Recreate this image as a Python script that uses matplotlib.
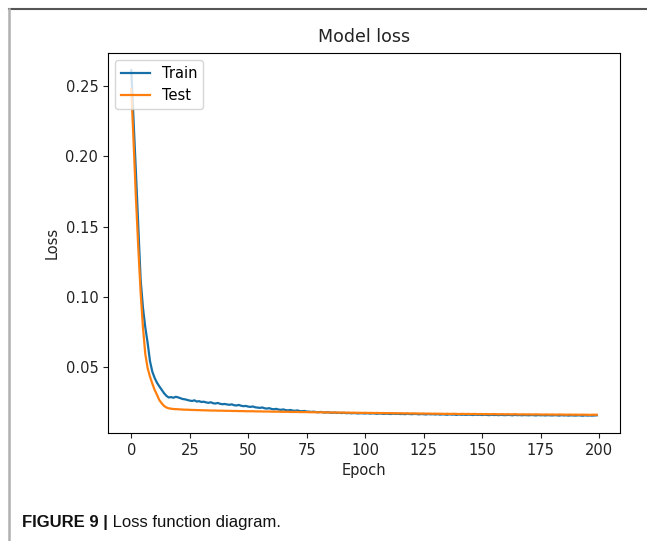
import matplotlib
matplotlib.use("Agg")
import matplotlib.pyplot as plt
from matplotlib.lines import Line2D

epochs = list(range(200))

train_loss = [
    0.2614, 0.2250, 0.1880, 0.1500, 0.1120, 0.0920, 0.0780, 0.0670, 0.0540, 0.0465,
    0.0420, 0.0386, 0.0360, 0.0336, 0.0312, 0.0293, 0.0281, 0.0284, 0.0279, 0.0286,
    0.0282, 0.0276, 0.0270, 0.0268, 0.0263, 0.0259, 0.0256, 0.0261, 0.0252, 0.0255,
    0.0249, 0.0251, 0.0246, 0.0243, 0.0247, 0.0240, 0.0238, 0.0242, 0.0236, 0.0233,
    0.0235, 0.0231, 0.0229, 0.0232, 0.0226, 0.0224, 0.0228, 0.0222, 0.0219, 0.0221,
    0.0216, 0.0214, 0.0217, 0.0211, 0.0209, 0.0207, 0.0210, 0.0204, 0.0202, 0.0205,
    0.0199, 0.0197, 0.0200, 0.0195, 0.0193, 0.0196, 0.0191, 0.0189, 0.0192, 0.0188,
    0.0186, 0.0189, 0.0184, 0.0183, 0.0185, 0.0181, 0.0180, 0.0178, 0.0180, 0.0177,
    0.0176, 0.0178, 0.0175, 0.0174, 0.0176, 0.0173, 0.0172, 0.0174, 0.0171, 0.0172,
    0.0170, 0.0172, 0.0169, 0.0171, 0.0168, 0.0170, 0.0169, 0.0167, 0.0169, 0.0168,
    0.0167, 0.0169, 0.0166, 0.0168, 0.0167, 0.0165, 0.0167, 0.0166, 0.0164, 0.0166,
    0.0165, 0.0163, 0.0166, 0.0164, 0.0165, 0.0163, 0.0164, 0.0162, 0.0165, 0.0163,
    0.0162, 0.0164, 0.0163, 0.0161, 0.0163, 0.0162, 0.0160, 0.0163, 0.0161, 0.0162,
    0.0160, 0.0162, 0.0159, 0.0161, 0.0160, 0.0158, 0.0161, 0.0159, 0.0160, 0.0157,
    0.0160, 0.0158, 0.0159, 0.0157, 0.0159, 0.0158, 0.0156, 0.0159, 0.0157, 0.0158,
    0.0156, 0.0158, 0.0157, 0.0155, 0.0158, 0.0156, 0.0157, 0.0155, 0.0157, 0.0156,
    0.0155, 0.0157, 0.0156, 0.0154, 0.0157, 0.0155, 0.0156, 0.0154, 0.0156, 0.0155,
    0.0154, 0.0156, 0.0155, 0.0153, 0.0156, 0.0154, 0.0155, 0.0153, 0.0155, 0.0154,
    0.0153, 0.0155, 0.0154, 0.0152, 0.0155, 0.0153, 0.0154, 0.0152, 0.0154, 0.0153,
    0.0152, 0.0154, 0.0153, 0.0151, 0.0154, 0.0152, 0.0153, 0.0152, 0.0153, 0.0154,
]

test_loss = [
    0.2480, 0.2100, 0.1700, 0.1350, 0.1030, 0.0780, 0.0590, 0.0490, 0.0430, 0.0380,
    0.0335, 0.0300, 0.0262, 0.0240, 0.0221, 0.0210, 0.0204, 0.0201, 0.0199, 0.0198,
    0.0197, 0.0196, 0.0195, 0.0194, 0.0194, 0.0193, 0.0192, 0.0192, 0.0191, 0.0191,
    0.0190, 0.0190, 0.0189, 0.0189, 0.0188, 0.0188, 0.0188, 0.0187, 0.0187, 0.0187,
    0.0186, 0.0186, 0.0186, 0.0185, 0.0185, 0.0185, 0.0184, 0.0184, 0.0184, 0.0183,
    0.0183, 0.0183, 0.0183, 0.0182, 0.0182, 0.0182, 0.0181, 0.0181, 0.0181, 0.0181,
    0.0180, 0.0180, 0.0180, 0.0180, 0.0179, 0.0179, 0.0179, 0.0179, 0.0178, 0.0178,
    0.0178, 0.0178, 0.0177, 0.0177, 0.0177, 0.0177, 0.0176, 0.0176, 0.0176, 0.0176,
    0.0175, 0.0176, 0.0175, 0.0175, 0.0174, 0.0175, 0.0174, 0.0174, 0.0174, 0.0173,
    0.0174, 0.0173, 0.0173, 0.0173, 0.0172, 0.0173, 0.0172, 0.0172, 0.0172, 0.0171,
    0.0172, 0.0171, 0.0171, 0.0171, 0.0170, 0.0171, 0.0170, 0.0170, 0.0170, 0.0169,
    0.0170, 0.0169, 0.0169, 0.0169, 0.0168, 0.0169, 0.0168, 0.0168, 0.0168, 0.0167,
    0.0168, 0.0167, 0.0167, 0.0167, 0.0166, 0.0167, 0.0166, 0.0166, 0.0166, 0.0165,
    0.0166, 0.0165, 0.0165, 0.0165, 0.0164, 0.0165, 0.0164, 0.0164, 0.0165, 0.0164,
    0.0163, 0.0164, 0.0164, 0.0163, 0.0164, 0.0163, 0.0163, 0.0164, 0.0162, 0.0163,
    0.0163, 0.0162, 0.0163, 0.0162, 0.0162, 0.0163, 0.0162, 0.0161, 0.0162, 0.0162,
    0.0161, 0.0162, 0.0161, 0.0161, 0.0162, 0.0161, 0.0160, 0.0161, 0.0161, 0.0160,
    0.0161, 0.0160, 0.0160, 0.0161, 0.0160, 0.0160, 0.0159, 0.0160, 0.0160, 0.0159,
    0.0160, 0.0159, 0.0159, 0.0160, 0.0159, 0.0159, 0.0158, 0.0159, 0.0159, 0.0158,
    0.0159, 0.0158, 0.0158, 0.0159, 0.0158, 0.0158, 0.0157, 0.0158, 0.0158, 0.0158,
]

series_labels = ["Train", "Test"]
title = "Model loss"
x_label = "Epoch"
y_label = "Loss"
caption_bold = "FIGURE 9 |"
caption_text = " Loss function diagram."

W, H = 647, 541
fig = plt.figure(figsize=(W / 100, H / 100), dpi=100)
fig.patch.set_facecolor("white")

ax = fig.add_axes([108 / W, 1 - 433 / H, 512 / W, 380 / H])
ax.plot(epochs, train_loss, color="#1670a8", lw=1.6, label=series_labels[0])
ax.plot(epochs, test_loss, color="#ff7f0e", lw=1.6, label=series_labels[1])
ax.set_title(title, fontsize=12.5, color="#222222", pad=8)
ax.set_xlabel(x_label, fontsize=10.5, color="#222222")
ax.set_ylabel(y_label, fontsize=10.5, color="#222222")
ax.tick_params(labelsize=10.5, colors="#222222")
ax.set_xticks([0, 25, 50, 75, 100, 125, 150, 175, 200])
ax.set_yticks([0.05, 0.10, 0.15, 0.20, 0.25])
ax.legend(loc="upper left", fontsize=10.5)

# frame lines of the figure panel
fig.add_artist(Line2D([8.5 / W, 1.0], [1 - 9 / H, 1 - 9 / H],
                      transform=fig.transFigure, color="#555555", lw=1.5))
fig.add_artist(Line2D([8.5 / W, 8.5 / W], [0.0, 1 - 9 / H],
                      transform=fig.transFigure, color="#b0b0b0", lw=1.8))

# caption
t = fig.text(22 / W, 1 - 523 / H, caption_bold, fontsize=12, fontweight="bold",
             family="Liberation Sans", va="center", ha="left", color="#111111")
fig.canvas.draw()
bb = t.get_window_extent()
fig.text(bb.x1 / W, 1 - 523 / H, caption_text, fontsize=12,
         family="Liberation Sans", va="center", ha="left", color="#111111")

fig.savefig("out.png", dpi=100)
